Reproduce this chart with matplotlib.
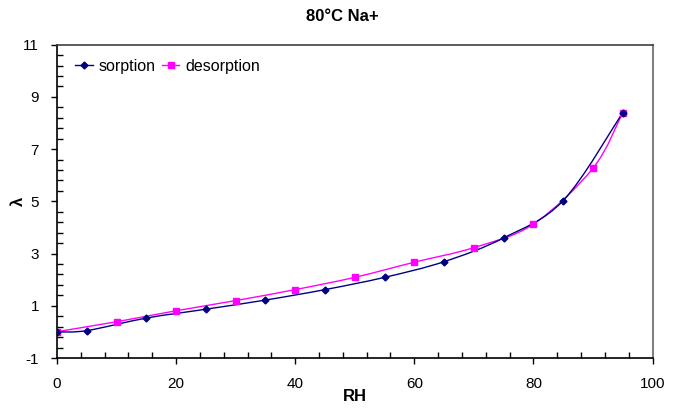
import numpy as np
import matplotlib
matplotlib.use('Agg')
import matplotlib.pyplot as plt
from matplotlib.path import Path
from matplotlib.patches import PathPatch
from matplotlib.lines import Line2D
from matplotlib.ticker import MultipleLocator, FixedLocator

plt.rcParams['font.family'] = ['Liberation Sans', 'DejaVu Sans']
plt.rcParams['axes.unicode_minus'] = False

rh_sorp = [0, 5, 15, 25, 35, 45, 55, 65, 75, 85, 95]
lam_sorp = [0.0, 0.05, 0.53, 0.87, 1.22, 1.62, 2.09, 2.69, 3.60, 5.03, 8.40]

rh_desorp = [0, 10, 20, 30, 40, 50, 60, 70, 80, 90, 95]
lam_desorp = [0.01, 0.39, 0.81, 1.20, 1.62, 2.09, 2.67, 3.23, 4.13, 6.27, 8.40]

y_ticks = [-1, 1, 3, 5, 7, 9, 11]


def smooth_path(xs, ys):
    # excel-like smoothed line: cubic bezier through the points
    p = np.column_stack([xs, ys]).astype(float)
    ext = np.vstack([p[0], p, p[-1]])
    verts = [p[0]]
    codes = [Path.MOVETO]
    for i in range(len(p) - 1):
        p0, p1, p2, p3 = ext[i], ext[i + 1], ext[i + 2], ext[i + 3]
        c1 = p1 + (p2 - p0) / 6.0
        c2 = p2 - (p3 - p1) / 6.0
        verts += [c1, c2, p2]
        codes += [Path.CURVE4] * 3
    return Path(verts, codes)


fig = plt.figure(figsize=(6.85, 4.12), dpi=100)
ax = fig.add_axes([0.0832, 0.131, 0.8694, 0.7605])

sorp_col = '#000080'
desorp_col = '#FF00FF'

ax.add_patch(PathPatch(smooth_path(rh_sorp, lam_sorp), fill=False,
                       edgecolor=sorp_col, lw=1.0, zorder=3))
ax.add_patch(PathPatch(smooth_path(rh_desorp, lam_desorp), fill=False,
                       edgecolor=desorp_col, lw=1.0, zorder=2))
ax.plot(rh_desorp, lam_desorp, ls='none', marker='s', ms=5,
        color=desorp_col, zorder=4)
ax.plot(rh_sorp, lam_sorp, ls='none', marker='D', ms=3.5,
        color=sorp_col, zorder=5)

ax.set_xlim(0, 100)
ax.set_ylim(-1, 11)
ax.xaxis.set_major_locator(MultipleLocator(20))
ax.xaxis.set_minor_locator(MultipleLocator(4))
ax.yaxis.set_major_locator(FixedLocator(y_ticks))
ax.yaxis.set_minor_locator(FixedLocator(np.arange(-1, 11.01, 0.4)))
ax.tick_params(which='major', direction='out', length=4, width=1,
               labelsize=11)
ax.tick_params(axis='x', which='major', pad=10)
ax.tick_params(axis='y', which='major', pad=9)
ax.tick_params(which='minor', direction='in', length=4, width=1)

for s in ['left', 'bottom']:
    ax.spines[s].set_color('black')
    ax.spines[s].set_linewidth(1.2)
ax.spines['top'].set_color('#404040')
ax.spines['top'].set_linewidth(1.2)
ax.spines['right'].set_color('#808080')
ax.spines['right'].set_linewidth(1.5)

ax.set_xlabel('RH', fontsize=12, fontweight='bold')
ax.set_ylabel('λ', fontsize=12, fontweight='bold')
ax.xaxis.set_label_coords(0.5, -0.098)
ax.yaxis.set_label_coords(-0.052, 0.5)
fig.text(0.5, 0.959, '80°C Na+', ha='center', va='center',
         fontsize=12, fontweight='bold')

handles = [
    Line2D([], [], color=sorp_col, marker='D', ms=3.5, lw=1.0),
    Line2D([], [], color=desorp_col, marker='s', ms=5, lw=1.0),
]
ax.legend(handles, ['sorption', 'desorption'], loc='upper left', ncol=2,
          frameon=False, fontsize=11.5, handlelength=1.1, handletextpad=0.35,
          columnspacing=0.4, bbox_to_anchor=(0.02, 0.975), borderaxespad=0)

fig.savefig('out.png', dpi=100)
